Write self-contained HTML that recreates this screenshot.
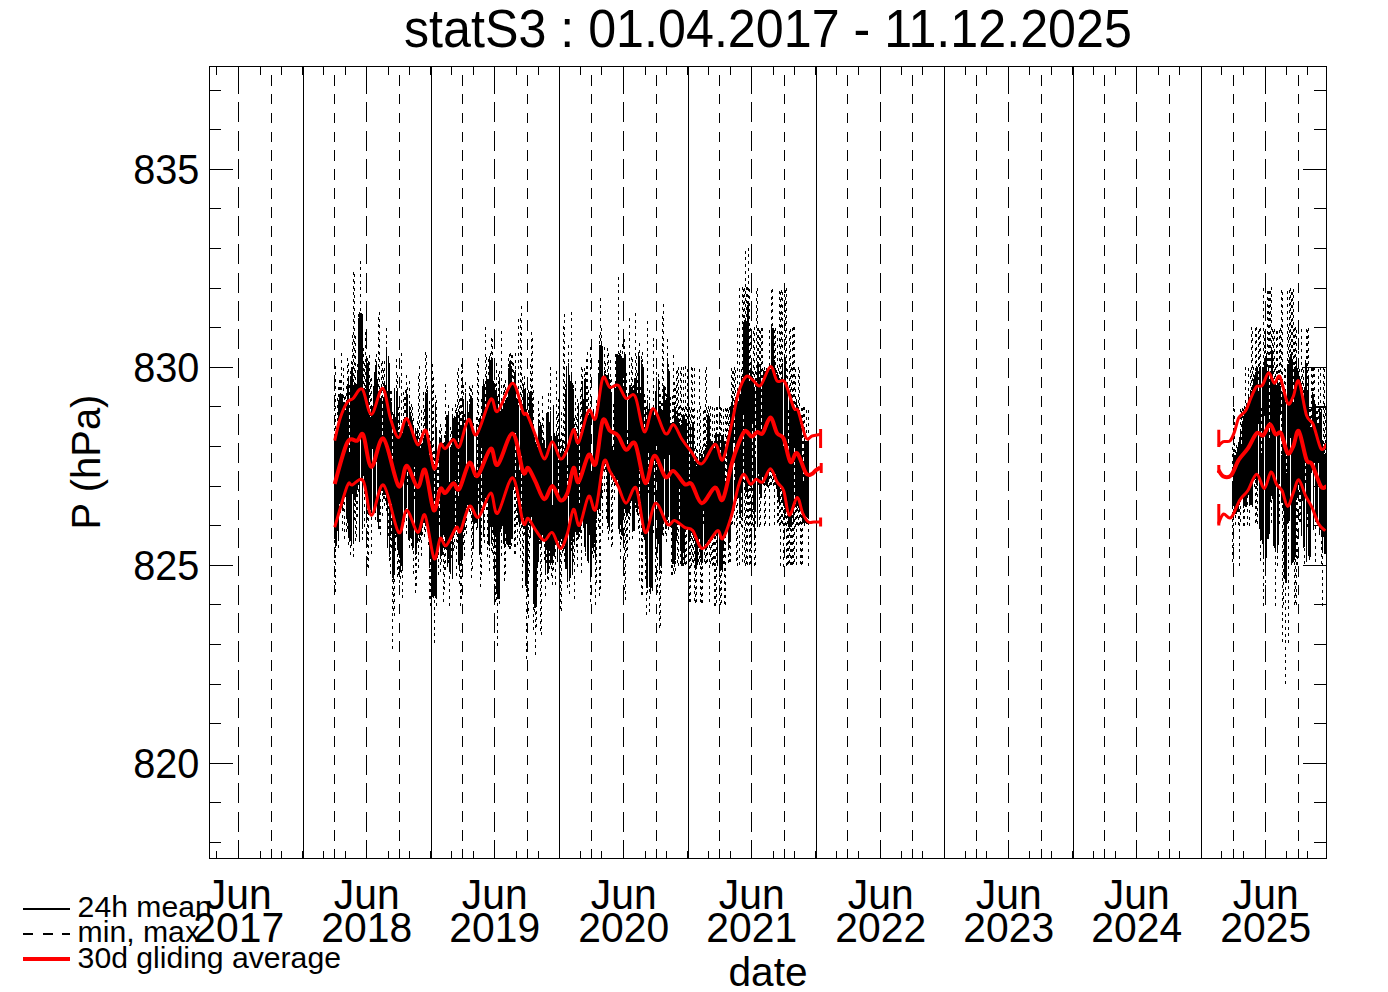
<!DOCTYPE html>
<html><head><meta charset="utf-8"><title>statS3</title>
<style>
html,body{margin:0;padding:0;background:#fff;}
body{width:1388px;height:992px;overflow:hidden;}
svg{display:block;}
text{font-family:"Liberation Sans",Arial,Helvetica,sans-serif;fill:#000;}
</style></head><body>
<svg width="1388" height="992" viewBox="0 0 1388 992">
<rect width="1388" height="992" fill="#fff"/>
<g shape-rendering="crispEdges">
<path d="M303.5 66 V859" stroke="#000" stroke-width="1"/>
<path d="M431.5 66 V859" stroke="#000" stroke-width="1"/>
<path d="M559.5 66 V859" stroke="#000" stroke-width="1"/>
<path d="M688.5 66 V859" stroke="#000" stroke-width="1"/>
<path d="M816.5 66 V859" stroke="#000" stroke-width="1"/>
<path d="M944.5 66 V859" stroke="#000" stroke-width="1"/>
<path d="M1073.5 66 V859" stroke="#000" stroke-width="1"/>
<path d="M1201.5 66 V859" stroke="#000" stroke-width="1"/>
<path d="M238.5 73.9 V859" stroke="#000" stroke-width="1" stroke-dasharray="20.1 8.277"/>
<path d="M238.5 66 V74" stroke="#000" stroke-width="1"/>
<path d="M366.5 73.9 V859" stroke="#000" stroke-width="1" stroke-dasharray="20.1 8.277"/>
<path d="M366.5 66 V74" stroke="#000" stroke-width="1"/>
<path d="M494.5 73.9 V859" stroke="#000" stroke-width="1" stroke-dasharray="20.1 8.277"/>
<path d="M494.5 66 V74" stroke="#000" stroke-width="1"/>
<path d="M623.5 73.9 V859" stroke="#000" stroke-width="1" stroke-dasharray="20.1 8.277"/>
<path d="M623.5 66 V74" stroke="#000" stroke-width="1"/>
<path d="M751.5 73.9 V859" stroke="#000" stroke-width="1" stroke-dasharray="20.1 8.277"/>
<path d="M751.5 66 V74" stroke="#000" stroke-width="1"/>
<path d="M880.5 73.9 V859" stroke="#000" stroke-width="1" stroke-dasharray="20.1 8.277"/>
<path d="M880.5 66 V74" stroke="#000" stroke-width="1"/>
<path d="M1008.5 73.9 V859" stroke="#000" stroke-width="1" stroke-dasharray="20.1 8.277"/>
<path d="M1008.5 66 V74" stroke="#000" stroke-width="1"/>
<path d="M1136.5 73.9 V859" stroke="#000" stroke-width="1" stroke-dasharray="20.1 8.277"/>
<path d="M1136.5 66 V74" stroke="#000" stroke-width="1"/>
<path d="M1265.5 73.9 V859" stroke="#000" stroke-width="1" stroke-dasharray="20.1 8.277"/>
<path d="M1265.5 66 V74" stroke="#000" stroke-width="1"/>
<path d="M271.5 74.9 V859" stroke="#000" stroke-width="1" stroke-dasharray="10.7 8.183"/>
<path d="M334.5 74.9 V859" stroke="#000" stroke-width="1" stroke-dasharray="10.7 8.183"/>
<path d="M399.5 74.9 V859" stroke="#000" stroke-width="1" stroke-dasharray="10.7 8.183"/>
<path d="M462.5 74.9 V859" stroke="#000" stroke-width="1" stroke-dasharray="10.7 8.183"/>
<path d="M527.5 74.9 V859" stroke="#000" stroke-width="1" stroke-dasharray="10.7 8.183"/>
<path d="M591.5 74.9 V859" stroke="#000" stroke-width="1" stroke-dasharray="10.7 8.183"/>
<path d="M656.5 74.9 V859" stroke="#000" stroke-width="1" stroke-dasharray="10.7 8.183"/>
<path d="M719.5 74.9 V859" stroke="#000" stroke-width="1" stroke-dasharray="10.7 8.183"/>
<path d="M784.5 74.9 V859" stroke="#000" stroke-width="1" stroke-dasharray="10.7 8.183"/>
<path d="M847.5 74.9 V859" stroke="#000" stroke-width="1" stroke-dasharray="10.7 8.183"/>
<path d="M912.5 74.9 V859" stroke="#000" stroke-width="1" stroke-dasharray="10.7 8.183"/>
<path d="M976.5 74.9 V859" stroke="#000" stroke-width="1" stroke-dasharray="10.7 8.183"/>
<path d="M1041.5 74.9 V859" stroke="#000" stroke-width="1" stroke-dasharray="10.7 8.183"/>
<path d="M1104.5 74.9 V859" stroke="#000" stroke-width="1" stroke-dasharray="10.7 8.183"/>
<path d="M1169.5 74.9 V859" stroke="#000" stroke-width="1" stroke-dasharray="10.7 8.183"/>
<path d="M1233.5 74.9 V859" stroke="#000" stroke-width="1" stroke-dasharray="10.7 8.183"/>
<path d="M1298.5 74.9 V859" stroke="#000" stroke-width="1" stroke-dasharray="10.7 8.183"/>
<path d="M216.5 66 V75 M216.5 859 V851" stroke="#000" stroke-width="1"/>
<path d="M260.5 66 V75 M260.5 859 V851" stroke="#000" stroke-width="1"/>
<path d="M281.5 66 V75 M281.5 859 V851" stroke="#000" stroke-width="1"/>
<path d="M323.5 66 V75 M323.5 859 V851" stroke="#000" stroke-width="1"/>
<path d="M345.5 66 V75 M345.5 859 V851" stroke="#000" stroke-width="1"/>
<path d="M388.5 66 V75 M388.5 859 V851" stroke="#000" stroke-width="1"/>
<path d="M409.5 66 V75 M409.5 859 V851" stroke="#000" stroke-width="1"/>
<path d="M451.5 66 V75 M451.5 859 V851" stroke="#000" stroke-width="1"/>
<path d="M473.5 66 V75 M473.5 859 V851" stroke="#000" stroke-width="1"/>
<path d="M516.5 66 V75 M516.5 859 V851" stroke="#000" stroke-width="1"/>
<path d="M538.5 66 V75 M538.5 859 V851" stroke="#000" stroke-width="1"/>
<path d="M580.5 66 V75 M580.5 859 V851" stroke="#000" stroke-width="1"/>
<path d="M601.5 66 V75 M601.5 859 V851" stroke="#000" stroke-width="1"/>
<path d="M645.5 66 V75 M645.5 859 V851" stroke="#000" stroke-width="1"/>
<path d="M666.5 66 V75 M666.5 859 V851" stroke="#000" stroke-width="1"/>
<path d="M708.5 66 V75 M708.5 859 V851" stroke="#000" stroke-width="1"/>
<path d="M730.5 66 V75 M730.5 859 V851" stroke="#000" stroke-width="1"/>
<path d="M773.5 66 V75 M773.5 859 V851" stroke="#000" stroke-width="1"/>
<path d="M794.5 66 V75 M794.5 859 V851" stroke="#000" stroke-width="1"/>
<path d="M836.5 66 V75 M836.5 859 V851" stroke="#000" stroke-width="1"/>
<path d="M858.5 66 V75 M858.5 859 V851" stroke="#000" stroke-width="1"/>
<path d="M901.5 66 V75 M901.5 859 V851" stroke="#000" stroke-width="1"/>
<path d="M922.5 66 V75 M922.5 859 V851" stroke="#000" stroke-width="1"/>
<path d="M965.5 66 V75 M965.5 859 V851" stroke="#000" stroke-width="1"/>
<path d="M986.5 66 V75 M986.5 859 V851" stroke="#000" stroke-width="1"/>
<path d="M1029.5 66 V75 M1029.5 859 V851" stroke="#000" stroke-width="1"/>
<path d="M1051.5 66 V75 M1051.5 859 V851" stroke="#000" stroke-width="1"/>
<path d="M1093.5 66 V75 M1093.5 859 V851" stroke="#000" stroke-width="1"/>
<path d="M1115.5 66 V75 M1115.5 859 V851" stroke="#000" stroke-width="1"/>
<path d="M1158.5 66 V75 M1158.5 859 V851" stroke="#000" stroke-width="1"/>
<path d="M1179.5 66 V75 M1179.5 859 V851" stroke="#000" stroke-width="1"/>
<path d="M1221.5 66 V75 M1221.5 859 V851" stroke="#000" stroke-width="1"/>
<path d="M1243.5 66 V75 M1243.5 859 V851" stroke="#000" stroke-width="1"/>
<path d="M1286.5 66 V75 M1286.5 859 V851" stroke="#000" stroke-width="1"/>
<path d="M1307.5 66 V75 M1307.5 859 V851" stroke="#000" stroke-width="1"/>
<path d="M302.5 66 V75 M302.5 859 V851" stroke="#000" stroke-width="1"/>
<path d="M430.5 66 V75 M430.5 859 V851" stroke="#000" stroke-width="1"/>
<path d="M687.5 66 V75 M687.5 859 V851" stroke="#000" stroke-width="1"/>
<path d="M815.5 66 V75 M815.5 859 V851" stroke="#000" stroke-width="1"/>
<path d="M1072.5 66 V75 M1072.5 859 V851" stroke="#000" stroke-width="1"/>
<path d="M209 842.5 H221 M1327 842.5 H1314" stroke="#000" stroke-width="1"/>
<path d="M209 802.5 H221 M1327 802.5 H1314" stroke="#000" stroke-width="1"/>
<path d="M209 763.5 H233 M1327 763.5 H1303" stroke="#000" stroke-width="1"/>
<path d="M209 723.5 H221 M1327 723.5 H1314" stroke="#000" stroke-width="1"/>
<path d="M209 684.5 H221 M1327 684.5 H1314" stroke="#000" stroke-width="1"/>
<path d="M209 644.5 H221 M1327 644.5 H1314" stroke="#000" stroke-width="1"/>
<path d="M209 604.5 H221 M1327 604.5 H1314" stroke="#000" stroke-width="1"/>
<path d="M209 565.5 H233 M1327 565.5 H1303" stroke="#000" stroke-width="1"/>
<path d="M209 525.5 H221 M1327 525.5 H1314" stroke="#000" stroke-width="1"/>
<path d="M209 486.5 H221 M1327 486.5 H1314" stroke="#000" stroke-width="1"/>
<path d="M209 446.5 H221 M1327 446.5 H1314" stroke="#000" stroke-width="1"/>
<path d="M209 406.5 H221 M1327 406.5 H1314" stroke="#000" stroke-width="1"/>
<path d="M209 367.5 H233 M1327 367.5 H1303" stroke="#000" stroke-width="1"/>
<path d="M209 327.5 H221 M1327 327.5 H1314" stroke="#000" stroke-width="1"/>
<path d="M209 288.5 H221 M1327 288.5 H1314" stroke="#000" stroke-width="1"/>
<path d="M209 248.5 H221 M1327 248.5 H1314" stroke="#000" stroke-width="1"/>
<path d="M209 208.5 H221 M1327 208.5 H1314" stroke="#000" stroke-width="1"/>
<path d="M209 169.5 H233 M1327 169.5 H1303" stroke="#000" stroke-width="1"/>
<path d="M209 129.5 H221 M1327 129.5 H1314" stroke="#000" stroke-width="1"/>
<path d="M209 90.5 H221 M1327 90.5 H1314" stroke="#000" stroke-width="1"/>
<rect x="209.5" y="66.5" width="1117" height="792" fill="none" stroke="#000" stroke-width="1"/>
</g>
<clipPath id="pc"><rect x="210" y="67" width="1116" height="791"/></clipPath>
<g clip-path="url(#pc)" shape-rendering="crispEdges">
<path d="M334.5 374.6V455M334.5 590.0V527M335.5 365.7V450M335.5 591.8V537M337.5 398.3V442M338.5 387.2V410M338.5 547.8V530M339.5 380.3V405M339.5 508.5V493M340.5 379.8V403M340.5 512.9V492M341.5 353.3V404M341.5 508.0V489M342.5 531.1V497M343.5 368.1V412M343.5 510.7V492M344.5 396.8V412M344.5 538.6V487M345.5 396.4V423M346.5 386.1V418M346.5 532.3V505M347.5 358.0V394M347.5 529.4V512M348.5 362.6V386M348.5 544.5V526M349.5 385.1V462M349.5 542.2V530M350.5 371.2V386M350.5 554.8V530M351.5 361.1V377M352.5 335.2V377M353.5 272.1V395M353.5 557.2V533M354.5 274.4V395M354.5 519.6V489M355.5 336.3V393M355.5 540.9V491M356.5 537.0V483M357.5 363.9V380M357.5 517.1V476M358.5 313.7V328M358.5 491.6V472M359.5 311.5V324M360.5 260.6V323M361.5 313.4V326M362.5 540.2V518M363.5 347.6V401M364.5 362.6V398M364.5 527.2V472M365.5 331.7V399M366.5 355.7V373M366.5 522.9V482M367.5 357.7V373M367.5 567.1V487M368.5 568.1V497M369.5 355.0V427M369.5 513.4V498M370.5 379.2V427M371.5 377.7V416M371.5 553.5V501M373.5 512.7V499M375.5 358.6V376M375.5 519.5V499M376.5 354.4V372M376.5 461.8V447M378.5 317.1V404M378.5 528.7V515M379.5 311.9V405M379.5 528.8V504M380.5 535.4V483M381.5 363.4V406M382.5 361.2V448M382.5 515.7V480M383.5 370.0V410M383.5 499.0V484M384.5 361.0V394M384.5 505.9V484M385.5 501.3V483M386.5 327.8V357M386.5 510.7V494M387.5 548.3V534M388.5 536.1V485M389.5 561.1V546M390.5 391.0V411M390.5 573.7V525M391.5 391.2V412M391.5 547.8V493M392.5 412.4V472M392.5 649.0V567M393.5 414.3V427M393.5 610.7V569M394.5 387.5V401M394.5 615.6V563M395.5 551.2V523M396.5 358.5V401M397.5 374.7V401M397.5 576.9V539M398.5 406.7V442M398.5 575.3V542M399.5 405.4V447M399.5 583.3V540M400.5 578.9V558M401.5 352.9V445M401.5 573.1V555M402.5 598.2V557M403.5 392.4V438M404.5 396.5V435M404.5 522.2V510M405.5 390.0V430M406.5 375.2V402M406.5 534.4V497M407.5 387.0V406M407.5 485.4V461M408.5 539.7V526M409.5 381.1V416M409.5 547.6V530M410.5 407.4V422M411.5 403.5V426M411.5 546.0V527M412.5 406.7V431M412.5 550.1V538M413.5 418.1V435M413.5 574.2V537M414.5 498.7V456M415.5 427.6V441M415.5 593.0V544M416.5 430.6V446M416.5 586.1V543M417.5 421.1V440M417.5 543.2V529M418.5 375.9V452M418.5 568.2V522M419.5 365.9V448M419.5 541.6V527M420.5 436.6V458M420.5 540.3V524M421.5 410.0V456M421.5 556.4V524M422.5 534.5V514M423.5 391.5V451M424.5 409.1V445M424.5 536.7V512M425.5 351.5V402M425.5 532.2V512M426.5 355.4V403M427.5 385.8V400M428.5 435.2V454M428.5 545.0V521M429.5 401.3V465M429.5 598.6V557M430.5 440.5V466M430.5 605.6V547M431.5 457.5V474M431.5 564.0V551M432.5 364.4V469M433.5 377.0V472M433.5 598.0V586M434.5 450.8V518M434.5 643.0V585M435.5 395.4V415M436.5 400.2V440M436.5 605.5V587M437.5 466.6V503M437.5 557.6V538M438.5 459.9V516M438.5 574.9V536M439.5 430.3V450M439.5 524.5V483M440.5 424.2V448M440.5 571.9V546M441.5 427.9V446M441.5 562.3V543M443.5 601.9V524M444.5 435.0V452M444.5 590.4V525M445.5 383.7V445M445.5 569.5V533M446.5 549.5V536M447.5 567.4V553M448.5 404.8V421M448.5 562.8V548M449.5 605.8V560M450.5 427.0V457M451.5 431.2V458M451.5 557.5V528M452.5 407.5V427M452.5 578.8V567M453.5 551.3V521M454.5 548.3V524M455.5 403.6V429M455.5 524.6V469M456.5 408.2V422M456.5 575.5V519M457.5 371.9V422M457.5 543.4V519M458.5 368.3V507M459.5 398.9V421M459.5 583.6V560M460.5 398.2V437M460.5 606.0V550M461.5 364.4V435M461.5 599.0V554M462.5 370.3V432M462.5 573.6V548M463.5 385.4V410M463.5 544.6V521M464.5 413.7V439M464.5 556.3V518M465.5 382.0V403M465.5 530.0V512M466.5 534.2V497M468.5 510.4V498M469.5 385.8V414M469.5 511.5V491M470.5 388.0V406M470.5 514.4V496M471.5 388.8V408M471.5 578.0V497M472.5 384.9V408M472.5 568.8V508M473.5 422.9V442M474.5 469.8V490M476.5 417.4V436M476.5 530.0V512M477.5 363.2V483M477.5 528.1V514M478.5 358.4V435M478.5 504.3V473M480.5 586.9V543M481.5 399.3V435M481.5 574.9V436M483.5 378.8V392M484.5 543.3V490M485.5 326.9V427M486.5 357.4V386M486.5 510.0V489M487.5 556.9V483M488.5 359.0V391M489.5 571.1V535M490.5 353.4V371M491.5 337.5V367M491.5 550.5V531M492.5 339.0V368M492.5 553.0V516M493.5 568.7V524M494.5 364.0V393M494.5 600.8V525M495.5 383.8V400M495.5 601.9V526M496.5 363.1V398M496.5 599.9V583M497.5 395.7V409M497.5 646.0V588M498.5 374.1V419M499.5 371.4V387M499.5 604.0V588M500.5 405.9V421M501.5 331.0V417M501.5 556.1V518M503.5 384.8V409M504.5 383.6V413M504.5 581.4V534M505.5 380.2V410M505.5 574.0V523M506.5 544.1V530M507.5 545.2V531M508.5 357.6V378M509.5 354.3V374M509.5 548.8V534M510.5 353.3V373M510.5 548.9V534M511.5 354.5V376M511.5 546.1V528M512.5 355.3V393M513.5 362.8V393M513.5 489.9V477M514.5 554.1V475M515.5 353.0V380M515.5 553.5V421M516.5 391.0V408M516.5 524.5V485M517.5 545.0V502M518.5 319.4V415M519.5 540.7V516M520.5 318.3V420M520.5 557.5V512M521.5 306.4V420M521.5 527.5V445M522.5 376.7V423M522.5 587.5V508M523.5 562.8V507M524.5 375.5V399M524.5 535.3V512M526.5 408.6V426M526.5 659.0V577M527.5 386.7V428M527.5 596.8V573M528.5 389.8V428M528.5 617.5V514M529.5 572.7V509M530.5 364.2V404M531.5 332.4V401M532.5 337.9V413M533.5 390.2V441M533.5 629.9V593M534.5 611.6V597M535.5 655.0V595M536.5 626.9V593M537.5 446.5V459M537.5 587.3V557M538.5 400.9V429M538.5 562.0V549M539.5 413.3V436M539.5 544.1V529M540.5 630.8V533M541.5 635.3V535M542.5 396.4V453M543.5 418.1V451M544.5 439.9V453M544.5 560.4V530M545.5 595.5V563M546.5 563.4V538M547.5 411.8V425M547.5 579.0V563M548.5 392.5V422M548.5 579.7V559M549.5 569.2V540M550.5 366.6V421M551.5 575.5V552M552.5 504.5V517M552.5 584.7V554M553.5 569.7V545M555.5 585.3V533M556.5 370.5V444M557.5 414.5V445M557.5 561.7V548M558.5 399.2V505M559.5 455.7V471M560.5 439.1V466M560.5 608.5V530M561.5 411.5V461M561.5 610.7V528M562.5 432.8V451M562.5 553.3V534M563.5 325.7V461M563.5 551.0V532M564.5 313.7V462M564.5 562.4V531M565.5 383.9V399M566.5 569.4V556M567.5 464.7V507M567.5 588.4V570M568.5 345.2V373M569.5 594.0V569M571.5 311.6V385M571.5 551.3V530M573.5 384.8V399M573.5 562.4V526M574.5 417.5V446M574.5 598.6V534M575.5 381.4V446M576.5 417.4V453M576.5 547.2V524M577.5 399.1V455M577.5 566.6V524M578.5 403.2V416M579.5 443.3V513M579.5 536.6V521M580.5 388.8V447M581.5 367.1V444M581.5 572.9V513M582.5 368.8V391M583.5 528.3V516M584.5 367.7V389M585.5 372.3V388M585.5 556.0V541M586.5 358.8V429M586.5 524.0V511M587.5 352.1V424M588.5 389.8V425M588.5 563.2V550M590.5 346.9V417M590.5 601.6V569M591.5 476.6V491M592.5 455.8V474M592.5 554.4V537M593.5 557.9V540M594.5 553.4V532M595.5 605.1V549M596.5 399.7V420M596.5 583.4V508M598.5 359.8V386M598.5 527.2V500M599.5 334.5V355M599.5 596.3V495M600.5 298.0V356M600.5 589.3V500M601.5 328.0V354M602.5 532.7V457M603.5 471.3V450M604.5 347.1V381M604.5 492.3V448M605.5 363.3V384M605.5 470.2V453M606.5 518.8V458M607.5 348.4V387M607.5 528.8V512M608.5 352.9V386M608.5 540.3V516M610.5 360.3V395M611.5 379.0V404M611.5 546.8V461M612.5 445.5V458M612.5 545.3V462M613.5 403.5V463M613.5 482.0V462M614.5 499.7V465M615.5 354.0V398M616.5 353.6V367M618.5 277.0V365M620.5 350.3V364M620.5 558.8V513M621.5 539.8V524M622.5 344.2V368M623.5 379.5V406M624.5 338.9V363M624.5 589.8V497M625.5 600.3V501M626.5 373.1V404M626.5 550.7V506M627.5 430.3V456M627.5 556.6V503M628.5 393.1V411M628.5 519.2V501M629.5 318.2V396M629.5 539.7V503M630.5 516.1V490M631.5 356.6V397M632.5 359.0V397M632.5 538.9V519M633.5 384.6V400M635.5 313.0V388M635.5 507.8V492M636.5 356.2V389M636.5 512.2V497M637.5 373.3V404M637.5 515.0V501M638.5 352.1V365M638.5 529.3V490M639.5 342.8V367M639.5 581.1V459M640.5 386.7V403M641.5 356.3V370M641.5 594.8V501M642.5 351.9V374M642.5 595.2V521M643.5 366.8V379M643.5 537.0V524M644.5 393.7V439M645.5 400.0V420M645.5 579.2V544M646.5 405.5V432M646.5 614.6V576M647.5 320.9V410M647.5 592.6V577M648.5 493.4V442M649.5 389.9V415M649.5 612.2V576M653.5 337.6V420M653.5 532.8V515M654.5 494.8V444M655.5 581.6V538M656.5 371.5V395M656.5 473.2V433M657.5 593.2V540M658.5 374.0V389M659.5 380.7V416M659.5 628.0V559M660.5 394.0V416M660.5 626.1V555M661.5 402.7V420M661.5 573.8V557M662.5 315.7V422M663.5 304.1V395M663.5 536.2V513M665.5 386.5V410M665.5 533.8V518M666.5 394.2V408M666.5 542.2V517M667.5 339.4V368M667.5 524.4V509M668.5 364.1V379M668.5 529.8V506M669.5 371.0V384M670.5 396.6V441M670.5 527.2V514M671.5 574.9V514M672.5 395.6V436M672.5 574.7V553M673.5 355.0V434M673.5 570.8V553M674.5 381.5V416M674.5 573.9V556M675.5 387.8V417M675.5 571.1V549M676.5 371.1V426M677.5 369.7V420M677.5 563.0V514M678.5 366.5V428M678.5 565.5V513M679.5 405.8V433M679.5 522.1V476M680.5 371.3V436M680.5 563.5V540M681.5 366.7V434M681.5 566.2V552M682.5 407.9V426M683.5 366.9V426M683.5 566.4V541M684.5 409.0V425M685.5 366.2V429M685.5 565.1V516M686.5 407.1V429M686.5 563.9V518M687.5 369.2V455M688.5 370.6V439M689.5 407.1V489M689.5 602.2V528M690.5 410.1V434M690.5 601.6V526M691.5 366.8V461M691.5 565.8V522M692.5 368.4V433M692.5 561.5V520M693.5 408.9V435M693.5 563.4V527M694.5 367.6V473M694.5 601.0V526M695.5 446.1V470M695.5 603.4V556M696.5 448.8V476M696.5 602.0V555M697.5 409.9V475M697.5 564.7V552M698.5 561.5V527M699.5 368.9V463M699.5 565.3V525M700.5 406.2V468M700.5 602.0V547M701.5 449.7V464M701.5 603.3V554M702.5 447.2V465M702.5 602.8V551M703.5 410.8V467M703.5 524.1V498M704.5 409.8V460M704.5 562.0V538M705.5 370.0V458M705.5 564.2V530M706.5 366.8V455M706.5 563.0V533M707.5 410.0V425M707.5 561.6V531M708.5 406.3V423M709.5 408.9V426M709.5 601.9V531M710.5 405.9V449M710.5 563.5V530M711.5 561.4V526M712.5 407.4V454M712.5 566.4V526M713.5 565.2V524M714.5 407.8V460M714.5 605.7V522M715.5 605.7V523M716.5 406.9V442M716.5 603.3V522M717.5 407.1V452M719.5 405.6V453M719.5 601.2V559M720.5 406.5V473M720.5 604.5V560M721.5 408.3V445M721.5 603.0V558M723.5 408.9V444M723.5 564.3V538M724.5 604.2V525M725.5 407.6V494M725.5 604.8V519M726.5 408.8V496M727.5 407.7V450M728.5 409.9V446M728.5 563.3V539M729.5 407.3V435M729.5 561.7V532M730.5 406.0V418M730.5 562.4V528M731.5 368.2V414M731.5 525.1V501M732.5 370.5V406M732.5 523.6V496M733.5 371.2V428M733.5 443.2V431M734.5 366.5V490M734.5 524.5V485M735.5 370.1V418M736.5 561.4V480M737.5 327.6V406M737.5 566.2V487M739.5 288.2V403M739.5 564.5V503M740.5 524.4V507M741.5 369.1V386M741.5 526.7V482M742.5 287.0V388M742.5 561.6V506M743.5 288.6V333M743.5 482.4V402M744.5 287.7V330M744.5 563.3V465M745.5 250.7V331M745.5 566.4V482M746.5 287.0V333M746.5 564.4V481M747.5 287.4V315M747.5 565.2V488M748.5 247.7V314M748.5 525.5V475M749.5 289.2V391M749.5 565.1V475M750.5 328.1V380M750.5 564.2V476M751.5 566.6V469M752.5 371.3V386M752.5 524.9V411M753.5 331.3V392M753.5 527.2V499M754.5 326.6V397M754.5 566.3V527M755.5 370.9V467M755.5 564.6V501M756.5 291.3V398M757.5 287.7V373M758.5 328.1V372M758.5 485.2V463M759.5 330.4V389M759.5 526.8V483M760.5 331.3V374M760.5 524.6V487M761.5 328.3V442M762.5 327.8V391M762.5 483.7V464M763.5 485.0V469M764.5 366.9V381M764.5 526.1V466M765.5 370.6V389M765.5 524.1V474M766.5 368.2V386M767.5 370.9V383M768.5 487.6V471M769.5 329.6V378M769.5 525.8V457M770.5 484.9V461M771.5 290.0V337M771.5 485.2V462M772.5 289.0V338M772.5 482.4V458M773.5 486.3V460M774.5 329.6V370M774.5 525.0V463M775.5 328.0V379M775.5 484.9V463M776.5 369.7V384M777.5 331.4V385M777.5 522.7V486M778.5 367.8V386M778.5 522.4V490M779.5 290.6V393M779.5 526.3V493M780.5 291.9V389M780.5 565.5V475M781.5 290.4V387M781.5 523.4V480M782.5 291.6V373M782.5 523.6V492M783.5 566.5V495M784.5 286.9V366M784.5 526.2V497M785.5 289.8V367M785.5 524.9V503M786.5 287.7V392M786.5 565.7V493M787.5 369.0V394M787.5 564.6V499M788.5 409.6V461M788.5 564.3V516M789.5 331.1V401M789.5 562.7V518M790.5 329.0V404M790.5 564.9V516M791.5 367.0V409M791.5 565.2V516M792.5 328.2V413M792.5 564.9V495M793.5 327.2V418M793.5 564.2V511M794.5 326.9V421M794.5 562.1V436M795.5 368.9V422M795.5 526.7V488M796.5 565.4V497M797.5 524.6V495M798.5 366.9V419M798.5 526.4V497M799.5 369.7V424M799.5 524.9V500M800.5 564.3V493M801.5 408.2V438M801.5 565.1V502M802.5 407.8V466M802.5 564.2V512M803.5 407.3V492M804.5 406.8V448M804.5 526.0V513M805.5 522.9V505M806.5 410.1V451M806.5 524.1V505M807.5 523.7V507M808.5 410.0V449M808.5 565.5V507M1232.5 447.2V494M1232.5 561.8V498M1233.5 408.3V465M1233.5 565.9V495M1234.5 409.0V465M1235.5 450.1V465M1235.5 524.6V503M1236.5 445.2V462M1238.5 525.3V501M1239.5 565.7V488M1240.5 408.9V442M1240.5 522.0V487M1241.5 410.5V457M1242.5 408.0V432M1243.5 409.3V428M1243.5 525.9V497M1244.5 406.4V423M1244.5 525.8V494M1245.5 366.6V417M1247.5 407.0V419M1247.5 525.2V486M1248.5 367.5V406M1249.5 526.3V492M1250.5 369.6V403M1251.5 326.8V401M1252.5 331.2V396M1253.5 367.4V389M1254.5 486.5V467M1255.5 327.7V382M1255.5 522.7V468M1256.5 326.9V376M1256.5 522.0V474M1257.5 524.1V475M1258.5 330.5V401M1259.5 329.0V377M1260.5 327.6V376M1260.5 561.4V530M1261.5 407.7V463M1263.5 288.0V377M1263.5 605.6V546M1264.5 331.2V368M1265.5 329.8V366M1265.5 603.0V546M1267.5 290.5V381M1268.5 291.3V376M1269.5 291.4V448M1270.5 290.9V381M1271.5 286.8V358M1271.5 523.1V483M1272.5 329.4V361M1273.5 331.1V392M1274.5 328.8V395M1275.5 367.0V391M1275.5 605.5V540M1276.5 331.2V395M1277.5 330.7V391M1277.5 565.7V542M1278.5 370.3V393M1279.5 329.6V392M1279.5 523.9V473M1280.5 328.4V396M1281.5 290.2V465M1282.5 291.7V402M1282.5 641.5V492M1283.5 605.2V498M1284.5 368.0V407M1285.5 368.7V414M1285.5 683.5V571M1286.5 449.3V483M1287.5 290.5V377M1288.5 326.8V374M1288.5 642.9V512M1289.5 289.9V367M1290.5 288.3V364M1291.5 291.8V365M1292.5 291.6V371M1293.5 288.5V414M1294.5 328.4V377M1294.5 605.1V549M1295.5 327.4V376M1295.5 602.6V546M1296.5 329.7V368M1296.5 605.1V489M1297.5 565.3V487M1298.5 330.9V381M1299.5 369.2V387M1299.5 522.2V479M1300.5 522.0V483M1301.5 328.9V397M1302.5 367.3V408M1303.5 369.8V413M1304.5 564.3V536M1305.5 482.6V443M1306.5 329.4V373M1307.5 329.5V400M1307.5 527.0V501M1308.5 327.8V387M1309.5 409.0V433M1310.5 409.1V437M1311.5 367.7V437M1312.5 368.1V402M1313.5 367.5V404M1314.5 366.8V412M1315.5 562.3V507M1316.5 410.9V427M1317.5 410.6V433M1318.5 368.9V434M1320.5 366.5V422M1321.5 409.3V422M1321.5 563.7V525M1322.5 606.3V540M1323.5 367.2V461M1324.5 369.4V464M1325.5 406.7V463" fill="none" stroke="#000" stroke-width="1" stroke-dasharray="3 3.7"/>
<path d="M334 445h1v93h-1zM335 440h1v108h-1zM336 437h1v109h-1zM337 432h1v99h-1zM338 400h1v141h-1zM339 395h1v109h-1zM340 393h1v110h-1zM341 394h1v106h-1zM342 394h1v114h-1zM343 402h1v101h-1zM344 402h1v96h-1zM345 413h1v84h-1zM346 408h1v108h-1zM347 384h1v139h-1zM348 376h1v161h-1zM349 452h1v89h-1zM350 376h1v165h-1zM351 367h1v179h-1zM352 367h1v127h-1zM353 385h1v159h-1zM354 385h1v115h-1zM355 383h1v119h-1zM356 384h1v110h-1zM357 370h1v117h-1zM358 318h1v165h-1zM359 314h1v228h-1zM360 313h1v121h-1zM361 316h1v164h-1zM362 314h1v215h-1zM363 391h1v85h-1zM364 388h1v95h-1zM365 389h1v106h-1zM366 363h1v130h-1zM367 363h1v135h-1zM368 361h1v147h-1zM369 417h1v92h-1zM370 417h1v93h-1zM371 406h1v106h-1zM372 406h1v43h-1zM373 386h1v124h-1zM374 372h1v139h-1zM375 366h1v144h-1zM376 362h1v96h-1zM377 379h1v143h-1zM378 394h1v132h-1zM379 395h1v120h-1zM380 398h1v96h-1zM381 396h1v95h-1zM382 438h1v53h-1zM383 400h1v95h-1zM384 384h1v111h-1zM385 385h1v109h-1zM386 347h1v158h-1zM387 391h1v154h-1zM388 356h1v140h-1zM389 363h1v194h-1zM390 401h1v135h-1zM391 402h1v102h-1zM392 462h1v116h-1zM393 417h1v163h-1zM394 391h1v183h-1zM395 417h1v117h-1zM396 391h1v146h-1zM397 391h1v159h-1zM398 432h1v121h-1zM399 437h1v114h-1zM400 435h1v134h-1zM401 435h1v131h-1zM402 433h1v135h-1zM403 428h1v43h-1zM404 425h1v96h-1zM405 420h1v91h-1zM406 392h1v116h-1zM407 396h1v76h-1zM408 426h1v111h-1zM409 406h1v135h-1zM410 412h1v126h-1zM411 416h1v122h-1zM412 421h1v128h-1zM413 425h1v123h-1zM414 436h1v31h-1zM415 431h1v124h-1zM416 436h1v118h-1zM417 430h1v110h-1zM418 442h1v91h-1zM419 438h1v100h-1zM420 448h1v87h-1zM421 446h1v89h-1zM422 443h1v82h-1zM423 441h1v82h-1zM424 435h1v88h-1zM425 392h1v131h-1zM426 393h1v132h-1zM427 390h1v138h-1zM428 444h1v88h-1zM429 455h1v113h-1zM430 456h1v102h-1zM431 464h1v98h-1zM432 459h1v138h-1zM433 462h1v135h-1zM434 508h1v88h-1zM435 405h1v193h-1zM436 430h1v168h-1zM437 493h1v56h-1zM438 506h1v41h-1zM439 440h1v54h-1zM440 438h1v119h-1zM441 436h1v118h-1zM442 443h1v112h-1zM443 443h1v92h-1zM444 442h1v94h-1zM445 435h1v109h-1zM446 415h1v132h-1zM447 415h1v149h-1zM448 411h1v148h-1zM449 482h1v89h-1zM450 447h1v127h-1zM451 448h1v91h-1zM452 417h1v161h-1zM453 418h1v114h-1zM454 416h1v119h-1zM455 419h1v61h-1zM456 412h1v118h-1zM457 412h1v118h-1zM458 497h1v68h-1zM459 411h1v160h-1zM460 427h1v134h-1zM461 425h1v140h-1zM462 422h1v137h-1zM463 400h1v132h-1zM464 429h1v100h-1zM465 393h1v130h-1zM466 464h1v44h-1zM467 401h1v104h-1zM468 412h1v97h-1zM469 404h1v98h-1zM470 396h1v111h-1zM471 398h1v110h-1zM472 398h1v121h-1zM473 432h1v117h-1zM474 480h1v44h-1zM475 472h1v51h-1zM476 426h1v97h-1zM477 473h1v52h-1zM478 425h1v59h-1zM479 418h1v137h-1zM480 416h1v138h-1zM481 425h1v22h-1zM482 386h1v116h-1zM483 382h1v155h-1zM484 384h1v117h-1zM485 417h1v81h-1zM486 376h1v124h-1zM487 379h1v115h-1zM488 381h1v164h-1zM489 356h1v190h-1zM490 361h1v166h-1zM491 357h1v185h-1zM492 358h1v169h-1zM493 381h1v154h-1zM494 383h1v153h-1zM495 390h1v147h-1zM496 388h1v206h-1zM497 399h1v200h-1zM498 409h1v190h-1zM499 377h1v222h-1zM500 411h1v121h-1zM501 407h1v122h-1zM502 409h1v117h-1zM503 399h1v145h-1zM504 403h1v142h-1zM505 400h1v134h-1zM506 398h1v143h-1zM507 397h1v145h-1zM508 368h1v179h-1zM509 364h1v181h-1zM510 363h1v182h-1zM511 366h1v173h-1zM512 383h1v156h-1zM513 383h1v105h-1zM514 372h1v114h-1zM515 370h1v62h-1zM516 398h1v98h-1zM517 399h1v114h-1zM518 405h1v117h-1zM519 470h1v57h-1zM520 410h1v113h-1zM521 410h1v46h-1zM522 413h1v106h-1zM523 384h1v134h-1zM524 389h1v134h-1zM525 388h1v198h-1zM526 416h1v172h-1zM527 418h1v166h-1zM528 418h1v107h-1zM529 392h1v128h-1zM530 394h1v144h-1zM531 391h1v126h-1zM532 403h1v120h-1zM533 431h1v173h-1zM534 437h1v171h-1zM535 442h1v164h-1zM536 444h1v160h-1zM537 449h1v119h-1zM538 419h1v141h-1zM539 426h1v114h-1zM540 422h1v122h-1zM541 425h1v121h-1zM542 443h1v92h-1zM543 441h1v100h-1zM544 443h1v98h-1zM545 448h1v126h-1zM546 413h1v136h-1zM547 415h1v159h-1zM548 412h1v158h-1zM549 422h1v129h-1zM550 411h1v154h-1zM551 436h1v127h-1zM552 507h1v58h-1zM553 405h1v151h-1zM554 433h1v124h-1zM555 436h1v108h-1zM556 434h1v109h-1zM557 435h1v124h-1zM558 495h1v46h-1zM559 461h1v79h-1zM560 456h1v85h-1zM561 451h1v88h-1zM562 441h1v104h-1zM563 451h1v92h-1zM564 452h1v90h-1zM565 389h1v180h-1zM566 366h1v201h-1zM567 497h1v84h-1zM568 363h1v133h-1zM569 375h1v205h-1zM570 381h1v197h-1zM571 375h1v166h-1zM572 383h1v192h-1zM573 389h1v148h-1zM574 436h1v109h-1zM575 436h1v96h-1zM576 443h1v92h-1zM577 445h1v90h-1zM578 406h1v133h-1zM579 503h1v29h-1zM580 437h1v96h-1zM581 434h1v90h-1zM582 381h1v138h-1zM583 399h1v128h-1zM584 379h1v168h-1zM585 378h1v174h-1zM586 419h1v103h-1zM587 414h1v147h-1zM588 415h1v146h-1zM589 413h1v122h-1zM590 407h1v173h-1zM591 481h1v94h-1zM592 464h1v84h-1zM593 409h1v142h-1zM594 418h1v125h-1zM595 414h1v146h-1zM596 410h1v109h-1zM597 404h1v106h-1zM598 376h1v135h-1zM599 345h1v161h-1zM600 346h1v165h-1zM601 344h1v154h-1zM602 346h1v122h-1zM603 376h1v85h-1zM604 371h1v88h-1zM605 374h1v90h-1zM606 375h1v94h-1zM607 377h1v146h-1zM608 376h1v151h-1zM609 379h1v152h-1zM610 385h1v88h-1zM611 394h1v78h-1zM612 448h1v25h-1zM613 453h1v20h-1zM614 386h1v90h-1zM615 388h1v97h-1zM616 357h1v129h-1zM617 354h1v126h-1zM618 355h1v174h-1zM619 353h1v181h-1zM620 354h1v170h-1zM621 356h1v179h-1zM622 358h1v178h-1zM623 396h1v110h-1zM624 353h1v155h-1zM625 354h1v158h-1zM626 394h1v123h-1zM627 446h1v68h-1zM628 401h1v111h-1zM629 386h1v128h-1zM630 385h1v116h-1zM631 387h1v114h-1zM632 387h1v143h-1zM633 390h1v141h-1zM634 378h1v153h-1zM635 378h1v125h-1zM636 379h1v129h-1zM637 394h1v118h-1zM638 355h1v146h-1zM639 357h1v113h-1zM640 393h1v109h-1zM641 360h1v152h-1zM642 364h1v168h-1zM643 369h1v166h-1zM644 429h1v111h-1zM645 410h1v145h-1zM646 422h1v165h-1zM647 400h1v188h-1zM648 409h1v44h-1zM649 405h1v182h-1zM650 409h1v185h-1zM651 413h1v175h-1zM652 410h1v181h-1zM653 410h1v116h-1zM654 415h1v40h-1zM655 391h1v158h-1zM656 385h1v59h-1zM657 414h1v137h-1zM658 379h1v165h-1zM659 406h1v164h-1zM660 406h1v160h-1zM661 410h1v158h-1zM662 412h1v123h-1zM663 385h1v139h-1zM664 386h1v73h-1zM665 400h1v129h-1zM666 398h1v130h-1zM667 358h1v162h-1zM668 369h1v148h-1zM669 374h1v81h-1zM670 431h1v94h-1zM671 423h1v102h-1zM672 426h1v138h-1zM673 424h1v140h-1zM674 406h1v161h-1zM675 407h1v153h-1zM676 416h1v125h-1zM677 410h1v115h-1zM678 418h1v106h-1zM679 423h1v64h-1zM680 426h1v125h-1zM681 424h1v139h-1zM682 416h1v150h-1zM683 416h1v136h-1zM684 415h1v149h-1zM685 419h1v108h-1zM686 419h1v110h-1zM687 445h1v83h-1zM688 429h1v96h-1zM689 479h1v60h-1zM690 424h1v113h-1zM691 451h1v82h-1zM692 423h1v108h-1zM693 425h1v113h-1zM694 463h1v74h-1zM695 460h1v107h-1zM696 466h1v100h-1zM697 465h1v98h-1zM698 463h1v75h-1zM699 453h1v83h-1zM700 458h1v100h-1zM701 454h1v111h-1zM702 455h1v107h-1zM703 457h1v52h-1zM704 450h1v99h-1zM705 448h1v93h-1zM706 445h1v99h-1zM707 415h1v127h-1zM708 413h1v127h-1zM709 416h1v126h-1zM710 439h1v102h-1zM711 441h1v96h-1zM712 444h1v93h-1zM713 443h1v92h-1zM714 450h1v83h-1zM715 433h1v101h-1zM716 432h1v101h-1zM717 442h1v124h-1zM718 434h1v98h-1zM719 443h1v127h-1zM720 463h1v108h-1zM721 435h1v134h-1zM722 435h1v137h-1zM723 434h1v115h-1zM724 441h1v95h-1zM725 484h1v46h-1zM726 486h1v48h-1zM727 440h1v90h-1zM728 436h1v114h-1zM729 425h1v118h-1zM730 408h1v131h-1zM731 404h1v108h-1zM732 396h1v111h-1zM733 418h1v24h-1zM734 480h1v16h-1zM735 408h1v87h-1zM736 401h1v90h-1zM737 396h1v102h-1zM738 401h1v97h-1zM739 393h1v121h-1zM740 394h1v124h-1zM741 376h1v117h-1zM742 378h1v139h-1zM743 323h1v90h-1zM744 320h1v156h-1zM745 321h1v172h-1zM746 323h1v169h-1zM747 305h1v194h-1zM748 304h1v182h-1zM749 381h1v105h-1zM750 370h1v117h-1zM751 371h1v109h-1zM752 376h1v46h-1zM753 382h1v128h-1zM754 387h1v151h-1zM755 457h1v55h-1zM756 388h1v47h-1zM757 363h1v164h-1zM758 362h1v112h-1zM759 379h1v115h-1zM760 364h1v134h-1zM761 432h1v66h-1zM762 381h1v94h-1zM763 370h1v110h-1zM764 371h1v106h-1zM765 379h1v106h-1zM766 376h1v110h-1zM767 373h1v114h-1zM768 370h1v112h-1zM769 368h1v100h-1zM770 369h1v103h-1zM771 327h1v146h-1zM772 328h1v141h-1zM773 328h1v143h-1zM774 360h1v114h-1zM775 369h1v105h-1zM776 374h1v115h-1zM777 375h1v122h-1zM778 376h1v125h-1zM779 383h1v121h-1zM780 379h1v107h-1zM781 377h1v114h-1zM782 363h1v140h-1zM783 446h1v60h-1zM784 356h1v152h-1zM785 357h1v157h-1zM786 382h1v122h-1zM787 384h1v126h-1zM788 451h1v76h-1zM789 391h1v138h-1zM790 394h1v133h-1zM791 399h1v128h-1zM792 403h1v103h-1zM793 408h1v114h-1zM794 411h1v36h-1zM795 412h1v87h-1zM796 399h1v109h-1zM797 405h1v101h-1zM798 409h1v99h-1zM799 414h1v97h-1zM800 424h1v80h-1zM801 428h1v85h-1zM802 456h1v67h-1zM803 482h1v41h-1zM804 438h1v86h-1zM805 441h1v75h-1zM806 441h1v75h-1zM807 441h1v77h-1zM808 439h1v79h-1zM1232 484h1v25h-1zM1233 455h1v51h-1zM1234 455h1v58h-1zM1235 455h1v59h-1zM1236 452h1v62h-1zM1237 447h1v65h-1zM1238 442h1v70h-1zM1239 437h1v62h-1zM1240 432h1v66h-1zM1241 447h1v52h-1zM1242 422h1v73h-1zM1243 418h1v90h-1zM1244 413h1v92h-1zM1245 407h1v100h-1zM1246 403h1v104h-1zM1247 409h1v88h-1zM1248 396h1v99h-1zM1249 397h1v106h-1zM1250 393h1v112h-1zM1251 391h1v114h-1zM1252 386h1v121h-1zM1253 379h1v102h-1zM1254 375h1v103h-1zM1255 372h1v107h-1zM1256 366h1v119h-1zM1257 367h1v119h-1zM1258 391h1v33h-1zM1259 367h1v162h-1zM1260 366h1v175h-1zM1261 453h1v87h-1zM1262 367h1v177h-1zM1263 367h1v190h-1zM1264 358h1v58h-1zM1265 356h1v201h-1zM1266 353h1v205h-1zM1267 371h1v168h-1zM1268 366h1v173h-1zM1269 438h1v96h-1zM1270 371h1v131h-1zM1271 348h1v146h-1zM1272 351h1v148h-1zM1273 382h1v164h-1zM1274 385h1v163h-1zM1275 381h1v170h-1zM1276 385h1v50h-1zM1277 381h1v172h-1zM1278 383h1v162h-1zM1279 382h1v102h-1zM1280 386h1v29h-1zM1281 455h1v48h-1zM1282 392h1v111h-1zM1283 394h1v115h-1zM1284 397h1v182h-1zM1285 404h1v178h-1zM1286 473h1v110h-1zM1287 367h1v157h-1zM1288 364h1v159h-1zM1289 357h1v164h-1zM1290 354h1v84h-1zM1291 355h1v210h-1zM1292 361h1v202h-1zM1293 404h1v158h-1zM1294 367h1v193h-1zM1295 366h1v191h-1zM1296 358h1v142h-1zM1297 368h1v130h-1zM1298 371h1v114h-1zM1299 377h1v113h-1zM1300 379h1v115h-1zM1301 387h1v149h-1zM1302 398h1v103h-1zM1303 403h1v145h-1zM1304 387h1v160h-1zM1305 360h1v94h-1zM1306 363h1v199h-1zM1307 390h1v122h-1zM1308 377h1v179h-1zM1309 423h1v137h-1zM1310 427h1v130h-1zM1311 427h1v46h-1zM1312 392h1v78h-1zM1313 394h1v136h-1zM1314 402h1v61h-1zM1315 404h1v114h-1zM1316 417h1v105h-1zM1317 423h1v100h-1zM1318 424h1v39h-1zM1319 406h1v129h-1zM1320 412h1v118h-1zM1321 412h1v124h-1zM1322 440h1v111h-1zM1323 451h1v86h-1zM1324 454h1v100h-1zM1325 453h1v101h-1z" fill="#000"/>
<path d="M1306 407.5H1326" stroke="#000" stroke-width="1"/>
</g>
<g clip-path="url(#pc)" fill="none" stroke="#f00" stroke-linejoin="round">
<path d="M334.7 440.6 C335.6 436.9 338.0 424.9 340.1 418.5 C342.2 412.1 345.0 405.7 347.2 402.3 C349.4 398.9 350.7 400.5 353.2 398.3 C355.7 396.1 359.3 386.5 362.3 389.2 C365.3 391.9 368.0 414.6 371.4 414.4 C374.8 414.2 379.3 387.5 382.5 388.2 C385.7 388.9 387.8 410.3 390.5 418.5 C393.2 426.7 395.9 437.6 398.6 437.6 C401.3 437.6 403.5 417.3 406.7 418.5 C409.9 419.7 414.5 442.7 417.7 444.7 C420.9 446.7 423.3 426.6 426.0 430.6 C428.7 434.6 431.7 466.5 434.1 468.9 C436.5 471.2 438.4 448.1 440.2 444.7 C442.0 441.3 443.0 449.5 445.2 448.7 C447.4 447.9 450.9 439.9 453.3 439.6 C455.7 439.3 456.8 450.1 459.3 446.7 C461.8 443.3 465.5 421.5 468.4 419.5 C471.3 417.5 472.8 438.0 476.5 434.6 C480.2 431.2 487.1 403.2 490.6 399.3 C494.1 395.4 493.9 414.1 497.6 411.4 C501.3 408.7 508.5 383.0 512.7 383.2 C517.0 383.4 520.7 407.3 523.1 412.5 C525.5 417.7 525.1 410.8 527.1 414.5 C529.1 418.2 532.4 427.3 535.2 434.7 C538.1 442.1 541.4 457.7 544.2 458.9 C547.1 460.1 549.6 441.7 552.3 441.7 C555.0 441.7 557.9 457.7 560.4 458.9 C562.9 460.1 565.2 453.7 567.4 448.8 C569.6 443.9 571.6 430.6 573.5 429.6 C575.4 428.6 576.0 445.9 578.5 442.7 C581.0 439.5 585.8 414.5 588.6 410.5 C591.5 406.5 593.2 423.9 595.6 418.5 C598.0 413.1 600.3 383.4 602.7 378.2 C605.1 373.0 607.2 386.1 609.8 387.3 C612.4 388.5 615.4 383.5 618.1 385.3 C620.8 387.1 623.2 396.5 626.1 398.4 C629.0 400.2 632.2 390.8 635.2 396.4 C638.2 401.9 641.3 429.7 644.3 431.7 C647.3 433.7 649.8 408.2 653.3 408.5 C656.8 408.8 662.0 431.0 665.4 433.7 C668.8 436.4 670.8 423.8 673.5 424.6 C676.2 425.4 678.8 434.3 681.6 438.7 C684.5 443.1 687.2 446.6 690.6 450.8 C694.0 455.0 697.6 465.0 701.7 463.9 C705.8 462.8 711.5 445.0 715.0 444.3 C718.5 443.6 719.9 463.1 722.7 459.8 C725.5 456.5 729.0 435.4 731.6 424.3 C734.2 413.2 735.9 401.1 738.3 393.2 C740.7 385.2 743.6 378.8 746.0 376.6 C748.4 374.4 750.3 378.4 752.7 379.9 C755.1 381.4 757.5 387.7 760.5 385.5 C763.5 383.3 767.6 367.4 770.4 366.6 C773.2 365.9 774.7 378.4 777.1 381.0 C779.5 383.6 782.1 377.7 784.9 382.1 C787.7 386.6 791.5 402.9 793.7 407.7 C795.9 412.5 796.2 406.0 798.2 411.0 C800.2 416.0 803.6 433.4 805.9 437.6 C808.2 441.8 809.6 436.6 812.0 436.0 C814.4 435.4 818.9 434.6 820.3 434.3" stroke-width="3"/>
<path d="M334.7 484.0 C336.8 477.1 343.4 449.9 347.2 442.7 C351.0 435.5 354.6 441.9 357.3 440.6 C360.0 439.3 361.0 430.6 363.3 435.0 C365.6 439.4 368.0 466.3 371.4 466.9 C374.8 467.5 379.0 435.4 383.5 438.6 C388.0 441.8 394.7 481.5 398.6 486.0 C402.5 490.5 403.5 465.6 406.7 465.8 C409.9 466.0 414.6 486.3 417.7 487.0 C420.8 487.7 422.3 466.0 425.0 469.9 C427.7 473.8 431.2 507.0 433.7 510.2 C436.2 513.4 438.3 491.9 440.2 489.0 C442.1 486.1 443.0 493.9 445.2 493.0 C447.4 492.1 450.9 484.1 453.3 483.4 C455.7 482.7 456.6 492.4 459.3 489.0 C462.0 485.6 466.4 465.0 469.4 462.8 C472.4 460.6 474.0 478.2 477.5 475.9 C481.0 473.5 487.2 450.5 490.6 448.7 C494.0 446.9 493.9 467.3 497.6 464.8 C501.3 462.3 508.5 432.4 512.7 433.6 C517.0 434.8 520.5 466.3 523.1 472.0 C525.7 477.7 526.1 466.4 528.1 467.9 C530.1 469.4 532.5 475.8 535.2 481.0 C537.9 486.2 541.4 498.3 544.2 499.2 C547.1 500.1 549.6 485.9 552.3 486.1 C555.0 486.3 557.9 499.0 560.4 500.2 C562.9 501.4 565.2 498.5 567.4 493.1 C569.6 487.7 571.6 469.8 573.5 467.9 C575.4 466.0 576.0 484.2 578.5 482.0 C581.0 479.8 585.8 457.8 588.6 454.8 C591.5 451.8 593.2 469.6 595.6 463.9 C598.0 458.2 600.3 426.2 602.7 420.6 C605.1 415.1 607.2 428.1 609.8 430.6 C612.4 433.1 615.4 432.5 618.1 435.7 C620.8 438.9 623.2 448.4 626.1 449.8 C629.0 451.2 632.0 438.2 635.2 443.8 C638.4 449.4 642.1 481.1 645.3 483.1 C648.5 485.1 651.0 456.8 654.4 455.8 C657.8 454.8 662.2 474.5 665.4 477.0 C668.6 479.5 670.3 469.8 673.5 471.0 C676.7 472.2 681.6 481.9 684.6 484.1 C687.6 486.3 688.9 480.9 691.7 484.1 C694.6 487.3 697.8 502.6 701.7 503.2 C705.6 503.8 711.5 488.1 715.0 487.5 C718.5 486.9 719.9 503.6 722.7 499.7 C725.5 495.8 729.0 473.4 731.6 464.2 C734.2 455.0 736.1 449.8 738.3 444.3 C740.5 438.8 742.7 432.3 744.9 431.0 C747.1 429.7 749.6 436.3 751.6 436.5 C753.6 436.7 755.2 432.7 757.1 432.1 C759.0 431.6 760.5 435.6 762.7 433.2 C764.9 430.8 768.0 417.6 770.4 417.6 C772.8 417.6 774.9 429.7 777.1 433.2 C779.3 436.7 781.5 433.9 783.7 438.7 C785.9 443.5 788.2 459.6 790.4 462.0 C792.6 464.4 794.5 451.2 797.1 453.1 C799.7 455.0 803.5 469.6 805.9 473.1 C808.3 476.6 809.8 474.7 811.5 474.2 C813.2 473.7 814.5 471.3 816.0 470.2 C817.5 469.1 819.6 467.9 820.3 467.5" stroke-width="4"/>
<path d="M334.7 527.3 C336.8 520.4 344.3 493.1 347.2 486.0 C350.1 478.9 349.5 485.8 352.2 485.0 C354.9 484.2 360.1 476.0 363.3 481.0 C366.5 486.0 368.0 514.5 371.4 515.2 C374.8 515.9 379.0 482.1 383.5 485.0 C388.0 487.9 394.7 528.2 398.6 532.4 C402.5 536.6 403.5 510.2 406.7 510.2 C409.9 510.2 414.6 531.6 417.7 532.4 C420.8 533.2 422.3 510.8 425.0 515.2 C427.7 519.6 431.6 554.7 434.1 558.6 C436.6 562.5 438.2 540.6 440.2 538.4 C442.2 536.2 443.5 547.4 446.2 545.5 C448.9 543.6 453.9 529.6 456.3 527.3 C458.7 524.9 458.1 534.9 460.3 531.4 C462.5 527.9 466.4 508.6 469.4 506.2 C472.4 503.8 475.0 519.5 478.5 517.3 C482.0 515.1 487.4 493.8 490.6 493.1 C493.8 492.4 493.9 515.7 497.6 513.2 C501.3 510.7 508.5 476.4 512.7 477.9 C517.0 479.4 520.5 515.7 523.1 522.4 C525.7 529.1 526.1 517.1 528.1 518.3 C530.1 519.5 532.5 525.7 535.2 529.4 C537.9 533.1 541.4 540.0 544.2 540.5 C547.1 541.0 549.6 531.1 552.3 532.5 C555.0 533.9 557.9 548.4 560.4 548.6 C562.9 548.8 565.2 540.0 567.4 533.5 C569.6 527.0 571.5 510.7 573.5 509.3 C575.5 507.9 577.0 527.6 579.5 525.4 C582.0 523.2 585.9 498.9 588.6 496.2 C591.3 493.5 593.1 515.0 595.6 509.3 C598.1 503.6 601.3 468.3 603.7 461.9 C606.1 455.5 607.4 467.0 609.8 471.0 C612.2 475.0 615.4 480.7 618.1 486.1 C620.8 491.5 623.1 502.9 626.1 503.2 C629.1 503.5 633.0 483.2 636.2 488.1 C639.4 493.0 642.1 530.0 645.3 532.5 C648.5 535.0 651.7 504.6 655.4 503.2 C659.1 501.8 664.3 521.5 667.5 524.4 C670.7 527.3 671.6 519.9 674.5 520.4 C677.4 520.9 681.6 525.7 684.6 527.4 C687.6 529.1 689.7 526.9 692.7 530.4 C695.7 533.9 698.6 548.5 702.7 548.6 C706.8 548.7 713.9 532.5 717.2 530.8 C720.5 529.1 720.3 541.1 722.7 538.5 C725.1 535.9 729.0 523.9 731.6 515.2 C734.2 506.5 736.3 493.2 738.3 486.4 C740.3 479.6 741.8 474.6 743.8 474.2 C745.8 473.8 748.5 483.3 750.5 484.2 C752.5 485.1 754.0 479.7 756.0 479.3 C758.0 478.9 760.3 483.8 762.7 482.0 C765.1 480.2 768.0 468.7 770.4 468.7 C772.8 468.7 774.9 478.3 777.1 482.0 C779.3 485.7 781.7 485.3 783.7 490.8 C785.7 496.3 787.1 514.1 789.3 515.2 C791.5 516.3 794.9 497.9 797.1 497.5 C799.3 497.1 800.8 508.9 802.6 513.0 C804.5 517.1 806.3 520.4 808.2 521.9 C810.1 523.4 812.0 522.0 814.0 522.0 C816.0 522.0 819.2 521.9 820.3 521.9" stroke-width="3"/>
<path d="M1218.4 446.0 C1219.2 445.3 1221.4 442.5 1223.3 441.6 C1225.2 440.8 1228.2 442.5 1230.0 440.9 C1231.8 439.3 1232.9 436.0 1234.4 432.1 C1235.9 428.2 1237.0 421.1 1238.8 417.6 C1240.6 414.1 1243.5 414.3 1245.5 411.0 C1247.5 407.7 1249.2 401.8 1251.0 397.7 C1252.8 393.6 1254.8 388.6 1256.6 386.6 C1258.4 384.6 1260.1 387.8 1262.1 385.5 C1264.1 383.2 1266.8 373.2 1268.8 372.8 C1270.8 372.4 1272.4 382.7 1274.3 383.3 C1276.2 383.9 1277.7 373.3 1279.9 376.6 C1282.1 379.9 1285.4 399.9 1287.6 403.2 C1289.8 406.5 1291.3 400.3 1293.2 396.6 C1295.1 392.9 1296.5 377.9 1298.7 381.0 C1300.9 384.1 1304.1 408.2 1306.5 415.4 C1308.9 422.6 1310.8 418.8 1313.2 424.3 C1315.6 429.9 1318.7 445.4 1320.9 448.7 C1323.1 452.0 1325.6 445.0 1326.5 444.3" stroke-width="3"/>
<path d="M1218.4 470.0 C1219.2 471.1 1221.2 475.5 1223.3 476.4 C1225.4 477.3 1228.5 478.1 1231.1 475.3 C1233.7 472.5 1236.0 464.2 1238.8 459.8 C1241.6 455.4 1244.7 453.1 1247.7 448.7 C1250.7 444.3 1254.0 435.4 1256.6 433.2 C1259.2 431.0 1261.0 436.9 1263.2 435.4 C1265.4 433.9 1267.9 424.5 1269.9 424.3 C1271.9 424.1 1273.6 432.8 1275.4 434.3 C1277.2 435.8 1279.0 430.1 1281.0 433.2 C1283.0 436.3 1285.6 450.9 1287.6 453.1 C1289.6 455.3 1291.3 450.2 1293.2 446.5 C1295.1 442.8 1296.5 428.8 1298.7 431.0 C1300.9 433.2 1304.3 454.3 1306.5 459.8 C1308.7 465.3 1309.6 459.8 1312.0 464.2 C1314.4 468.6 1318.5 482.7 1320.9 486.4 C1323.3 490.1 1325.6 486.4 1326.5 486.4" stroke-width="4"/>
<path d="M1218.4 524.0 C1219.2 522.4 1221.2 515.2 1223.3 514.1 C1225.4 513.0 1228.3 519.9 1231.1 517.5 C1233.9 515.1 1237.2 504.1 1240.0 499.7 C1242.8 495.2 1244.9 495.1 1247.7 490.8 C1250.5 486.6 1253.8 474.6 1256.6 474.2 C1259.4 473.8 1261.9 489.0 1264.3 488.6 C1266.7 488.2 1269.0 472.7 1271.0 472.0 C1273.0 471.3 1274.7 481.1 1276.5 484.2 C1278.3 487.3 1280.2 487.1 1282.1 490.8 C1283.9 494.5 1285.8 506.0 1287.6 506.4 C1289.4 506.8 1291.3 497.5 1293.2 493.1 C1295.1 488.7 1296.7 479.4 1298.7 479.8 C1300.7 480.2 1303.2 490.7 1305.4 495.3 C1307.6 499.9 1309.8 502.7 1312.0 507.5 C1314.2 512.3 1316.5 520.2 1318.7 524.1 C1320.9 528.0 1324.2 529.7 1325.3 530.8" stroke-width="3"/>
<path d="M820.6 429 V448 M821.2 463 V473 M820.6 517.5 V526.5 M1218.8 429.8 V447 M1218.8 465 V473 M1218.8 504 V525.5" stroke-width="3"/>
</g>
<g shape-rendering="crispEdges">
<path d="M23 909 H70" stroke="#000" stroke-width="2"/>
<path d="M23 934 H70" stroke="#000" stroke-width="2" stroke-dasharray="10 9.5"/>
<path d="M23 959 H70" stroke="#f00" stroke-width="4"/>
</g>
<text transform="translate(767.9 46.6) scale(0.941 1)" font-size="53.4" text-anchor="middle">statS3 : 01.04.2017 - 11.12.2025</text>
<text transform="translate(199.4 183.7) scale(0.922 1)" font-size="43" text-anchor="end">835</text>
<text transform="translate(199.4 381.7) scale(0.922 1)" font-size="43" text-anchor="end">830</text>
<text transform="translate(199.4 579.6) scale(0.922 1)" font-size="43" text-anchor="end">825</text>
<text transform="translate(199.4 777.6) scale(0.922 1)" font-size="43" text-anchor="end">820</text>
<text transform="translate(100.3 462) rotate(-90)" font-size="40" text-anchor="middle">P (hPa)</text>
<text transform="translate(238.7 909.2) scale(0.95 1)" font-size="43" text-anchor="middle">Jun</text>
<text transform="translate(238.7 942.3) scale(0.95 1)" font-size="43" text-anchor="middle">2017</text>
<text transform="translate(366.7 909.2) scale(0.95 1)" font-size="43" text-anchor="middle">Jun</text>
<text transform="translate(366.7 942.3) scale(0.95 1)" font-size="43" text-anchor="middle">2018</text>
<text transform="translate(494.7 909.2) scale(0.95 1)" font-size="43" text-anchor="middle">Jun</text>
<text transform="translate(494.7 942.3) scale(0.95 1)" font-size="43" text-anchor="middle">2019</text>
<text transform="translate(623.7 909.2) scale(0.95 1)" font-size="43" text-anchor="middle">Jun</text>
<text transform="translate(623.7 942.3) scale(0.95 1)" font-size="43" text-anchor="middle">2020</text>
<text transform="translate(751.7 909.2) scale(0.95 1)" font-size="43" text-anchor="middle">Jun</text>
<text transform="translate(751.7 942.3) scale(0.95 1)" font-size="43" text-anchor="middle">2021</text>
<text transform="translate(880.7 909.2) scale(0.95 1)" font-size="43" text-anchor="middle">Jun</text>
<text transform="translate(880.7 942.3) scale(0.95 1)" font-size="43" text-anchor="middle">2022</text>
<text transform="translate(1008.7 909.2) scale(0.95 1)" font-size="43" text-anchor="middle">Jun</text>
<text transform="translate(1008.7 942.3) scale(0.95 1)" font-size="43" text-anchor="middle">2023</text>
<text transform="translate(1136.7 909.2) scale(0.95 1)" font-size="43" text-anchor="middle">Jun</text>
<text transform="translate(1136.7 942.3) scale(0.95 1)" font-size="43" text-anchor="middle">2024</text>
<text transform="translate(1265.7 909.2) scale(0.95 1)" font-size="43" text-anchor="middle">Jun</text>
<text transform="translate(1265.7 942.3) scale(0.95 1)" font-size="43" text-anchor="middle">2025</text>
<text x="768" y="986.2" font-size="40.6" text-anchor="middle">date</text>
<text transform="translate(77.6 917) scale(1.02 1)" font-size="29.6">24h mean</text>
<text transform="translate(77.6 941.8) scale(1.02 1)" font-size="29.6">min, max</text>
<text transform="translate(77.6 967.6) scale(1.02 1)" font-size="29.6">30d gliding average</text>
</svg>
</body></html>
